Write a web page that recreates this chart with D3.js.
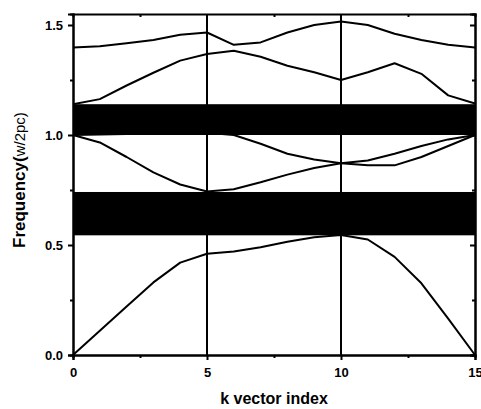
<!DOCTYPE html>
<html>
<head>
<meta charset="utf-8">
<script src="https://cdn.jsdelivr.net/npm/d3@7"></script>
<style>
	body { margin: 0; background: #fff; }
	svg { display: block; font-family: 'Liberation Sans', Arial, sans-serif; }
</style>
</head>
<body>
<div id="app"></div>
<script>
// k vector index for every band point
const kIndex = d3.range(0, 16);

// dispersion branches
const branch1 = [0, 0.11, 0.22, 0.33, 0.42, 0.46, 0.47, 0.49, 0.515, 0.535, 0.545, 0.525, 0.446, 0.326, 0.165, 0];
const branch2 = [1.0, 0.966, 0.9, 0.83, 0.775, 0.743, 0.753, 0.785, 0.82, 0.85, 0.872, 0.884, 0.915, 0.95, 0.98, 1.0];
const branch3 = [1.0, 1.002, 1.004, 1.006, 1.008, 1.01, 1.0, 0.96, 0.915, 0.889, 0.872, 0.862, 0.862, 0.9, 0.95, 1.0];
const branch4 = [1.14, 1.163, 1.225, 1.283, 1.338, 1.368, 1.383, 1.356, 1.315, 1.285, 1.25, 1.285, 1.326, 1.278, 1.18, 1.143];
const branch5 = [1.398, 1.403, 1.417, 1.432, 1.456, 1.466, 1.41, 1.421, 1.466, 1.5, 1.516, 1.5, 1.46, 1.432, 1.41, 1.398];
const branches = [branch1, branch2, branch3, branch4, branch5];

// band gaps (filled black)
const gaps = [[0.544, 0.741], [1.0, 1.14]];

// vertical markers at high symmetry points
const markerK = [5, 10];

const xMajor = [0, 5, 10, 15];
const xMinor = [2.5, 7.5, 12.5];
const yMajor = [0, 0.5, 1.0, 1.5];
const yMinor = [0.25, 0.75, 1.25];

const width = 481;
const height = 409;
const margin = {top: 14, right: 6, bottom: 54, left: 73};

const svg = d3.select('#app').append('svg')
	.attr('width', width)
	.attr('height', height);

const x = d3.scaleLinear().domain([0, 15]).range([margin.left, width - margin.right]);
const y = d3.scaleLinear().domain([0, 1.55]).range([height - margin.bottom, margin.top]);

// gaps
svg.append('g')
	.selectAll('rect')
	.data(gaps)
	.enter()
	.append('rect')
	.attr('x', x(0))
	.attr('width', x(15) - x(0))
	.attr('y', (d) => y(d[1]))
	.attr('height', (d) => y(d[0]) - y(d[1]))
	.attr('fill', '#000');

// branches
const line = d3.line()
	.x((d, i) => x(kIndex[i]))
	.y((d) => y(d));

svg.append('g')
	.selectAll('path')
	.data(branches)
	.enter()
	.append('path')
	.attr('d', line)
	.attr('fill', 'none')
	.attr('stroke', '#000')
	.attr('stroke-width', 2)
	.attr('stroke-linejoin', 'round');

// markers
svg.append('g')
	.selectAll('line')
	.data(markerK)
	.enter()
	.append('line')
	.attr('x1', (d) => x(d))
	.attr('x2', (d) => x(d))
	.attr('y1', y(1.55))
	.attr('y2', y(0))
	.attr('stroke', '#000')
	.attr('stroke-width', 2);

const styleAxis = (g, size) => {
	g.select('.domain').attr('stroke-width', 2);
	g.selectAll('.tick line').attr('stroke-width', 2);
	g.selectAll('text')
		.attr('font-size', size)
		.attr('font-weight', 'bold')
		.attr('fill', '#000');
};

const bottom = height - margin.bottom;

svg.append('g')
	.attr('transform', `translate(0,${bottom})`)
	.call(d3.axisBottom(x).tickValues(xMajor).tickSize(5).tickPadding(8).tickFormat(d3.format('d')))
	.call((g) => styleAxis(g, 13));
svg.append('g')
	.attr('transform', `translate(0,${bottom})`)
	.call(d3.axisBottom(x).tickValues(xMinor).tickSize(3).tickFormat(''))
	.call((g) => styleAxis(g, 13));

svg.append('g')
	.attr('transform', `translate(${margin.left},0)`)
	.call(d3.axisLeft(y).tickValues(yMajor).tickSize(5).tickPadding(5).tickFormat(d3.format('.1f')))
	.call((g) => styleAxis(g, 13));
svg.append('g')
	.attr('transform', `translate(${margin.left},0)`)
	.call(d3.axisLeft(y).tickValues(yMinor).tickSize(3).tickFormat(''))
	.call((g) => styleAxis(g, 13));

svg.append('g')
	.attr('transform', `translate(0,${margin.top})`)
	.call(d3.axisTop(x).tickValues(xMinor).tickSize(-3).tickFormat(''))
	.call((g) => styleAxis(g, 13));

svg.append('g')
	.attr('transform', `translate(${width - margin.right},0)`)
	.call(d3.axisRight(y).tickValues(yMajor).tickSize(-5).tickFormat(''))
	.call((g) => styleAxis(g, 13));
svg.append('g')
	.attr('transform', `translate(${width - margin.right},0)`)
	.call(d3.axisRight(y).tickValues(yMinor).tickSize(-3).tickFormat(''))
	.call((g) => styleAxis(g, 13));

// axis titles
svg.append('text')
	.attr('x', (x(0) + x(15)) / 2)
	.attr('y', 404)
	.attr('text-anchor', 'middle')
	.attr('font-size', 16)
	.attr('font-weight', 'bold')
	.text('k vector index');

const yTitle = svg.append('text')
	.attr('transform', 'translate(25,248) rotate(-90)')
	.attr('text-anchor', 'start');
yTitle.append('tspan')
	.attr('font-size', 17)
	.attr('font-weight', 'bold')
	.text('Frequency(');
yTitle.append('tspan')
	.attr('font-size', 15)
	.text('w/2pc)');
</script>
</body>
</html>
